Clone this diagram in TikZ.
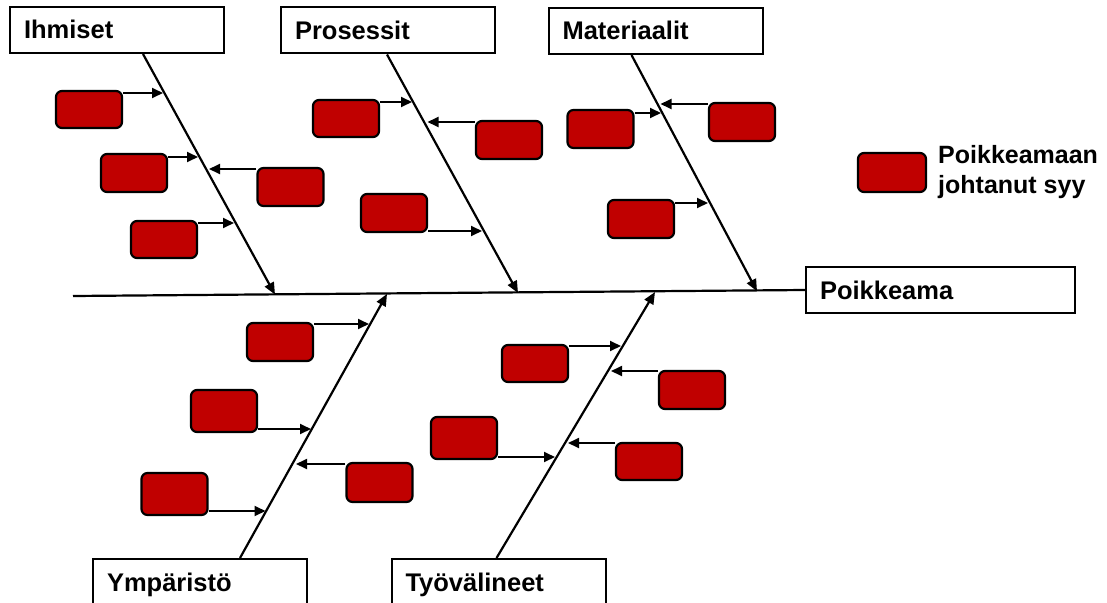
\documentclass[tikz,border=0pt]{standalone}
\usepackage{fontspec}
\setmainfont{Liberation Sans}
\usetikzlibrary{arrows.meta,calc}
\definecolor{causered}{HTML}{C00000}
\begin{document}
\begin{tikzpicture}[x=1pt,y=-1pt,
  head/.style={draw, line width=2pt, fill=white, minimum height=46pt,
    inner xsep=14pt, inner ysep=0pt, text width=#1, align=left,
    font=\fontsize{25.5}{30}\selectfont\bfseries, text height=18pt, text depth=0pt},
  head/.default=186pt,
  cause/.style={draw, line width=2.2pt, fill=causered, rounded corners=6pt,
    minimum width=66pt, minimum height=#1, inner sep=0pt},
  cause/.default=38pt,
  bone/.style={line width=2.2pt, -{Triangle[length=12pt,width=10pt]}},
  link/.style={line width=1.8pt, -{Triangle[length=11pt,width=10pt]}}
]
\useasboundingbox (0,0) rectangle (1107,602);
\clip (0,0) rectangle (1107,602);

% category boxes and the effect box
\node[head] (ihm) at (117,30) {Ihmiset};
\node[head] (pro) at (388,30.5) {Prosessit};
\node[head] (mat) at (655.5,31) {Materiaalit};
\node[head=241pt] (poi) at (940.5,290) {Poikkeama};
\node[head] (ymp) at (200,582) {Ympäristö};
\node[head] (tyo) at (498.5,582) {Työvälineet};

% spine
\coordinate (tail) at (73,296);
\draw[line width=2.2pt] (tail) -- (poi.west);

% bones
\coordinate (ihmTop) at ($(ihm.south west)+(134,0)$);
\coordinate (proTop) at ($(pro.south west)+(107,0)$);
\coordinate (matTop) at ($(mat.south west)+(84,0)$);
\coordinate (ympTop) at ($(ymp.north west)+(148,0)$);
\coordinate (tyoTop) at ($(tyo.north west)+(106,0)$);
\coordinate (ihmTip) at (275,294.6);
\coordinate (proTip) at (518,293);
\coordinate (matTip) at (757,291.3);
\coordinate (ympTip) at (387,293.9);
\coordinate (tyoTip) at (655,292);
\draw[bone] (ihmTop) -- (ihmTip);
\draw[bone] (proTop) -- (proTip);
\draw[bone] (matTop) -- (matTip);
\draw[bone] (ympTop) -- (ympTip);
\draw[bone] (tyoTop) -- (tyoTip);

% cause boxes
\node[cause=37pt] (c1) at (89,109.5) {};
\node[cause] (c2) at (134,173) {};
\node[cause] (c3) at (290.5,187) {};
\node[cause=37pt] (c4) at (164,239.5) {};
\node[cause=37pt] (c5) at (346,118.5) {};
\node[cause] (c6) at (509,140) {};
\node[cause] (c7) at (394,213) {};
\node[cause] (c8) at (600.5,129) {};
\node[cause] (c9) at (742,122) {};
\node[cause] (c10) at (641,219) {};
\node[cause] (c11) at (280,342) {};
\node[cause=42pt] (c12) at (224,411) {};
\node[cause=39pt] (c13) at (379.5,482.5) {};
\node[cause=42pt] (c14) at (174.5,494) {};
\node[cause=37pt] (c15) at (535,363.5) {};
\node[cause] (c16) at (692,390) {};
\node[cause=42pt] (c17) at (464,438) {};
\node[cause=37pt] (c18) at (649,461.5) {};

% points where the causes meet the bones
\coordinate (p1) at (163,93);
\coordinate (p2) at (198,157);
\coordinate (p3) at (209,169);
\coordinate (p4) at (234,223);
\coordinate (p5) at (412,102);
\coordinate (p6) at (427.5,122);
\coordinate (p7) at (482,231);
\coordinate (p8) at (661,113);
\coordinate (p9) at (660.5,104);
\coordinate (p10) at (708,203);
\coordinate (p11) at (369,324);
\coordinate (p12) at (311,429);
\coordinate (p13) at (296,464);
\coordinate (p14) at (265.5,511);
\coordinate (p15) at (621,346);
\coordinate (p16) at (611,371);
\coordinate (p17) at (555,457);
\coordinate (p18) at (568,443);

% cause arrows
\draw[link] (c1.east |- p1) -- (p1);
\draw[link] (c2.east |- p2) -- (p2);
\draw[link] (c3.west |- p3) -- (p3);
\draw[link] (c4.east |- p4) -- (p4);
\draw[link] (c5.east |- p5) -- (p5);
\draw[link] (c6.west |- p6) -- (p6);
\draw[link] (c7.east |- p7) -- (p7);
\draw[link] (c8.east |- p8) -- (p8);
\draw[link] (c9.west |- p9) -- (p9);
\draw[link] (c10.east |- p10) -- (p10);
\draw[link] (c11.east |- p11) -- (p11);
\draw[link] (c12.east |- p12) -- (p12);
\draw[link] (c13.west |- p13) -- (p13);
\draw[link] (c14.east |- p14) -- (p14);
\draw[link] (c15.east |- p15) -- (p15);
\draw[link] (c16.west |- p16) -- (p16);
\draw[link] (c17.east |- p17) -- (p17);
\draw[link] (c18.west |- p18) -- (p18);

% legend
\node[cause=39pt, minimum width=68pt] (key) at (892,172.5) {};
\node[anchor=west, align=left, inner sep=0pt,
  font=\fontsize{25}{29.5}\selectfont\bfseries] (keytext) at (938,172) {Poikkeamaan\\johtanut syy};
\end{tikzpicture}
\end{document}
